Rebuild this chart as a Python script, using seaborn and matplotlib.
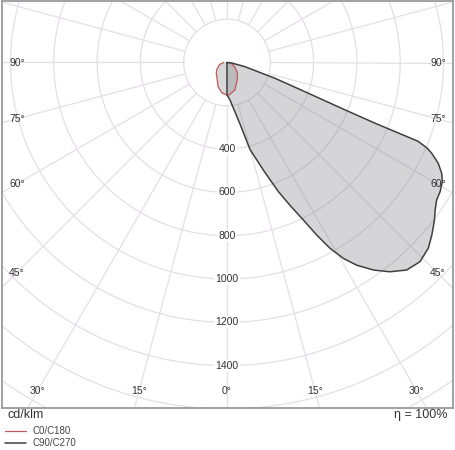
import numpy as np
import matplotlib
matplotlib.use("Agg")
import matplotlib.pyplot as plt
import seaborn as sns

# light distribution, gamma in degrees (negative = C180 / C270 side), cd/klm
c0_gamma = [-90, -75, -60, -54, -45, -35, -20, -9, 0, 4, 16, 30, 45, 50, 60, 73, 90]
c0_cd = [15, 35, 50, 59, 70, 82, 120, 143, 150, 150, 132, 94, 68, 56, 42, 24, 10]

c90_gamma = [-90, -30, -3, 0, 4.6, 12.1, 14.8, 18.8, 21.7, 23.9, 25.85, 27.47,
             29.0, 30.7, 32.6, 35.2, 37.9, 40.9, 44.1, 47.3, 49.9, 52.8, 54.7,
             56.75, 58.76, 61.0, 62.7, 64.5, 66.1, 66.85, 67.6, 67.7, 68.2, 69.3,
             71.8, 76.9, 85, 90]
c90_cd = [0, 0, 0, 150, 174, 295, 415, 529, 642, 725, 808, 898,
          981, 1052, 1111, 1173, 1225, 1268, 1281, 1265, 1237, 1203, 1178,
          1158, 1151, 1137, 1116, 1081, 1034, 1005, 954, 739, 570, 402,
          233, 85, 20, 0]

ring_values = list(range(200, 2001, 200))
ring_labels = [400, 600, 800, 1000, 1200, 1400]
side_angles = [45, 60, 75, 90]
bottom_angles = [0, 15, 30]

sns.set_style("white")
plt.rcParams["font.family"] = ["Liberation Sans", "DejaVu Sans"]

W, H = 455, 450
fig = plt.figure(figsize=(W / 100, H / 100), dpi=100)

# pixel layout (from top-left)
cx, cy = 227, 62.5
px_per_cd = 43.3 / 200
rmax = 2000
R = rmax * px_per_cd
frame_l, frame_r, frame_t, frame_b = 2, 453, 0.5, 408

ax = fig.add_axes([(cx - R) / W, (H - cy - R) / H, 2 * R / W, 2 * R / H],
                  projection="polar")
ax.set_theta_zero_location("S")
ax.set_theta_direction(1)
ax.set_rlim(0, rmax)
ax.set_facecolor("none")
ax.axis("off")

frame = fig.add_axes([frame_l / W, (H - frame_b) / H, (frame_r - frame_l) / W,
                      (frame_b - frame_t) / H], zorder=3)
frame.set_facecolor("none")
frame.set_xticks([])
frame.set_yticks([])
for s in frame.spines.values():
    s.set_color("#9a9a9a")
    s.set_linewidth(1.3)

grid_kw = dict(color="#e5dee7", lw=0.9, zorder=1)
t_full = np.linspace(0, 2 * np.pi, 721)
for r in ring_values:
    ax.plot(t_full, np.full_like(t_full, r), **grid_kw)
for a in range(0, 360, 15):
    ax.plot([np.deg2rad(a)] * 2, [200, rmax], **grid_kw)

c0 = {"theta": np.deg2rad(c0_gamma), "cd": c0_cd}
c90 = {"theta": np.deg2rad(c90_gamma), "cd": c90_cd}

ax.fill(c0["theta"], c0["cd"], color="#808080", alpha=0.3, lw=0, zorder=2)
ax.fill(c90["theta"], c90["cd"], color="#808088", alpha=0.33, lw=0, zorder=2)
sns.lineplot(x=c0["theta"], y=c0["cd"], ax=ax, sort=False, estimator=None,
             color="#c05858", lw=0.9, zorder=4, label="C0/C180", legend=False)
sns.lineplot(x=c90["theta"], y=c90["cd"], ax=ax, sort=False, estimator=None,
             color="#404040", lw=1.1, zorder=4, label="C90/C270", legend=False)
ax.axis("off")

for art in ax.lines + ax.patches:
    art.set_clip_path(frame.patch)

for v in ring_labels:
    ax.text(0, v, str(v), ha="center", va="center", fontsize=7.5, color="#333333",
            zorder=5, bbox=dict(boxstyle="square,pad=0.1", fc="white", ec="none"))

lab_kw = dict(fontsize=7.5, color="#333333", ha="center", va="center")
for a in side_angles:
    for x in (frame_l + 15, frame_r - 15):
        dy = 0 if a == 90 else abs(cx - x) / np.tan(np.deg2rad(a))
        fig.text(x / W, 1 - (cy + dy) / H, f"{a}°", **lab_kw)
for a in bottom_angles:
    y = frame_b - 17
    dx = (y - cy) * np.tan(np.deg2rad(a))
    for sgn in ((1,) if a == 0 else (-1, 1)):
        fig.text((cx + sgn * dx) / W, 1 - y / H, f"{a}°", **lab_kw)

fig.text(7 / W, 1 - 415 / H, "cd/klm", fontsize=9, color="#333333", va="center")
fig.text(447 / W, 1 - 415 / H, "η = 100%", fontsize=9, color="#333333",
         va="center", ha="right")

fig.legend(handles=ax.lines[-2:], labels=["C0/C180", "C90/C270"],
           loc="upper left", bbox_to_anchor=(3 / W, 1 - 424 / H), frameon=False,
           fontsize=7, handlelength=2.2, handletextpad=0.6, labelspacing=0.25,
           borderpad=0.2, borderaxespad=0, labelcolor="#444444")

fig.savefig("out.png", dpi=100)
